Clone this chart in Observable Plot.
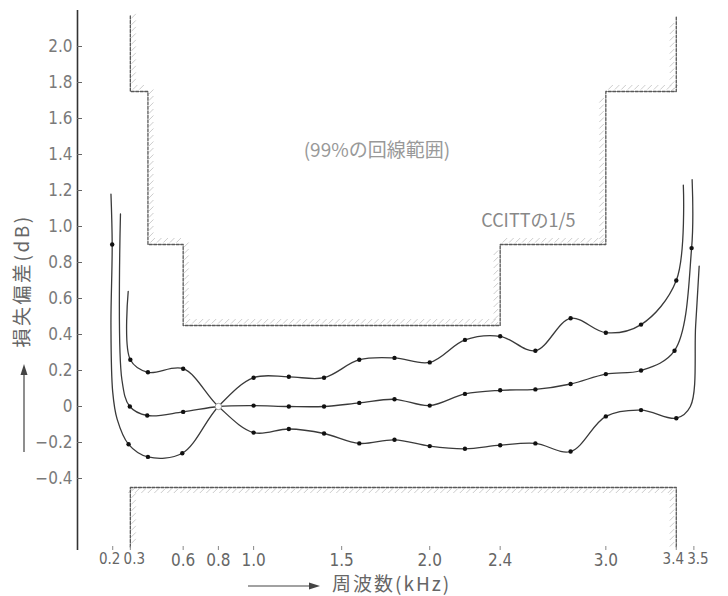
<!DOCTYPE html>
<html><head><meta charset="utf-8">
<script src="https://cdn.jsdelivr.net/npm/d3@7"></script>
<script src="https://cdn.jsdelivr.net/npm/@observablehq/plot@0.6"></script>
<style>
html,body{margin:0;padding:0;background:#fff;}
#chart{width:728px;height:596px;overflow:hidden;}
</style></head><body><div id="chart"></div>
<script>
// ---- tick values / labels ----
const xTicks = [0.2, 0.3, 0.6, 0.8, 1.0, 1.5, 2.0, 2.4, 3.0, 3.4, 3.5];
const xTickLabels = ["0.2", "0.3", "0.6", "0.8", "1.0", "1.5", "2.0", "2.4", "3.0", "3.4", "3.5"];
const yTicks = [2.0, 1.8, 1.6, 1.4, 1.2, 1.0, 0.8, 0.6, 0.4, 0.2, 0, -0.2, -0.4];
const yTickLabels = ["2.0", "1.8", "1.6", "1.4", "1.2", "1.0", "0.8", "0.6", "0.4", "0.2", "0", "−0.2", "−0.4"];

// ---- CCITT 1/5 template (upper / lower limits) ----
const upperF = [0.3, 0.3, 0.4, 0.4, 0.6, 0.6, 2.4, 2.4, 3.0, 3.0, 3.4, 3.4];
const upperV = [2.17, 1.75, 1.75, 0.9, 0.9, 0.45, 0.45, 0.9, 0.9, 1.75, 1.75, 2.17];
const lowerF = [0.3, 0.3, 3.4, 3.4];
const lowerV = [-0.78, -0.45, -0.45, -0.78];

// ---- measured curves (frequency kHz, deviation dB, marker: 1 dot, 2 node, 0 none) ----
const curveA_f = [0.288, 0.30, 0.40, 0.60, 0.80, 1.0, 1.2, 1.4, 1.6, 1.8, 2.0, 2.2, 2.4, 2.6, 2.8, 3.0, 3.2, 3.4, 3.48, 3.51, 3.53];
const curveA_v = [0.64, 0.26, 0.19, 0.21, 0.0, -0.145, -0.125, -0.15, -0.205, -0.185, -0.22, -0.235, -0.215, -0.205, -0.25, -0.055, -0.02, -0.065, 0.0, 0.45, 0.78];
const curveA_m = [0, 1, 1, 1, 2, 1, 1, 1, 1, 1, 1, 1, 1, 1, 1, 1, 1, 1, 0, 0, 0];

const curveB_f = [0.244, 0.252, 0.297, 0.396, 0.60, 0.80, 1.0, 1.2, 1.4, 1.6, 1.8, 2.0, 2.2, 2.4, 2.6, 2.8, 3.0, 3.2, 3.39, 3.487, 3.49];
const curveB_v = [1.07, 0.15, 0.0, -0.05, -0.03, 0.0, 0.005, 0.0, 0.0, 0.02, 0.04, 0.005, 0.07, 0.09, 0.095, 0.125, 0.18, 0.20, 0.31, 0.88, 1.26];
const curveB_m = [0, 0, 1, 1, 1, 2, 1, 1, 1, 1, 1, 1, 1, 1, 1, 1, 1, 1, 1, 1, 0];

const curveC_f = [0.19, 0.197, 0.19, 0.20, 0.225, 0.29, 0.40, 0.595, 0.80, 1.0, 1.2, 1.4, 1.6, 1.8, 2.0, 2.2, 2.4, 2.6, 2.8, 3.0, 3.2, 3.4, 3.44];
const curveC_v = [1.18, 0.90, 0.45, 0.08, -0.07, -0.21, -0.28, -0.26, 0.0, 0.16, 0.165, 0.16, 0.26, 0.27, 0.245, 0.37, 0.39, 0.31, 0.49, 0.41, 0.455, 0.70, 1.23];
const curveC_m = [0, 1, 0, 0, 0, 1, 1, 1, 2, 1, 1, 1, 1, 1, 1, 1, 1, 1, 1, 1, 1, 1, 0];

// ---- annotations ----
const noteText = ["(99%の回線範囲)", "CCITTの1/5"];
const noteF = [1.70, 2.56];
const noteV = [1.42, 1.03];

// ---- build tables ----
const upper = upperF.map((f, i) => ({f, v: upperV[i]}));
const lower = lowerF.map((f, i) => ({f, v: lowerV[i]}));
const mk = (id, F, V, M) => F.map((f, i) => ({id, f, v: V[i], m: M[i]}));
const curves = [
  ...mk("A", curveA_f, curveA_v, curveA_m),
  ...mk("B", curveB_f, curveB_v, curveB_m),
  ...mk("C", curveC_f, curveC_v, curveC_m)
];
const notes = noteText.map((t, i) => ({t, f: noteF[i], v: noteV[i]}));

const FONT = "'Liberation Sans Narrow', 'DejaVu Sans Condensed', 'Liberation Sans', sans-serif";
const lab = d => xTickLabels[xTicks.indexOf(d)];
const pairLeft = [0.2, 3.4];
const pairRight = [0.3, 3.5];
const single = xTicks.filter(d => !pairLeft.includes(d) && !pairRight.includes(d));

const chart = Plot.plot({
  width: 728, height: 596,
  marginLeft: 77, marginRight: 17, marginTop: 10, marginBottom: 46,
  x: {domain: [0, 3.6], label: null},
  y: {domain: [-0.8, 2.2], label: null},
  style: {background: "#fff", fontFamily: FONT, fontSize: "17px", color: "#555"},
  marks: [
    Plot.line(upper, {x: "f", y: "v", stroke: "#585858", strokeWidth: 1.3, strokeDasharray: "3,1.5"}),
    Plot.line(lower, {x: "f", y: "v", stroke: "#585858", strokeWidth: 1.3, strokeDasharray: "3,1.5"}),
    Plot.ruleX([0], {stroke: "#333", strokeWidth: 1.6}),
    Plot.line(curves, {x: "f", y: "v", z: "id", curve: "catmull-rom", stroke: "#3a3a3a", strokeWidth: 1.3}),
    Plot.dot(curves.filter(d => d.m === 1), {x: "f", y: "v", r: 2.2, fill: "#111"}),
    Plot.dot(curves.filter(d => d.m === 2).slice(0, 1), {x: "f", y: "v", r: 3.2, fill: "#fff", stroke: "#888", strokeWidth: 0.8}),
    Plot.text(notes.slice(0, 1), {x: "f", y: "v", text: "t", fill: "#999", fontSize: 19, fontFamily: "'Noto Sans CJK JP',sans-serif"}),
    Plot.text(notes.slice(1), {x: "f", y: "v", text: "t", fill: "#888", fontSize: 18, fontFamily: "'Noto Sans CJK JP',sans-serif"}),
    Plot.axisY({ticks: yTicks, tickSize: 5, dx: 5, tickFormat: () => "", label: null, color: "#666"}),
    Plot.axisY({ticks: yTicks, tickSize: 0, tickPadding: 5, label: null, color: "#7a7a7a",
      tickFormat: d => yTickLabels[yTicks.indexOf(d)]}),
    Plot.axisX({ticks: xTicks, tickSize: 4, dy: -4, tickFormat: () => "", label: null, color: "#888"}),
    Plot.axisX({ticks: single, tickSize: 0, tickPadding: 3, label: null, color: "#666", tickFormat: lab}),
    Plot.axisX({ticks: pairLeft, tickSize: 0, tickPadding: 3, dx: -3, fontSize: 15, label: null, color: "#666", tickFormat: lab}),
    Plot.axisX({ticks: pairRight, tickSize: 0, tickPadding: 3, dx: 4, fontSize: 15, label: null, color: "#666", tickFormat: lab})
  ]
});

document.getElementById("chart").appendChild(chart);

// ---- hatching on the forbidden side of each template segment ----
const svg = d3.select(chart);
const sx = chart.scale("x"), sy = chart.scale("y");
const hatchG = svg.insert("g", ":nth-child(2)").attr("stroke", "#c6c6c6").attr("stroke-width", 0.9);
for (const bound of [upper, lower]) {
  const px = bound.map(d => [sx.apply(d.f), sy.apply(d.v)]);
  for (let i = 0; i < px.length - 1; i++) {
    const [p, q] = [px[i], px[i + 1]];
    const len = Math.hypot(q[0] - p[0], q[1] - p[1]);
    const d = [(q[0] - p[0]) / len, (q[1] - p[1]) / len];
    let n = [-d[1], d[0]];
    const mid = [(p[0] + q[0]) / 2 + n[0] * 3, (p[1] + q[1]) / 2 + n[1] * 3];
    if (!d3.polygonContains(px, mid)) n = [-n[0], -n[1]];
    const m = [-n[1], -n[0]];
    const w = 4.5;
    for (let t = 3; t < len - 2; t += 6.5) {
      const a = [p[0] + d[0] * t + n[0] * 1.5, p[1] + d[1] * t + n[1] * 1.5];
      hatchG.append("line").attr("x1", a[0]).attr("y1", a[1])
        .attr("x2", a[0] + w * (n[0] + m[0])).attr("y2", a[1] + w * (n[1] + m[1]));
    }
  }
}

// ---- axis titles with arrows ----
const ink = "#444";
svg.append("text").attr("transform", "translate(24,281) rotate(-90)")
  .attr("text-anchor", "middle").attr("dominant-baseline", "middle")
  .attr("font-family", "'Noto Sans CJK JP', sans-serif").attr("font-size", 19)
  .attr("letter-spacing", 2.5).attr("fill", "#666").text("損失偏差(dB)");
svg.append("line").attr("x1", 24).attr("x2", 24).attr("y1", 452).attr("y2", 372)
  .attr("stroke", ink).attr("stroke-width", 1.2);
svg.append("path").attr("d", "M24,364L20.5,375L27.5,375Z").attr("fill", ink);
svg.append("line").attr("x1", 248).attr("x2", 312).attr("y1", 586).attr("y2", 586)
  .attr("stroke", ink).attr("stroke-width", 1.2);
svg.append("path").attr("d", "M320,586L309,582.5L309,589.5Z").attr("fill", ink);
svg.append("text").attr("x", 332).attr("y", 586)
  .attr("text-anchor", "start").attr("dominant-baseline", "middle")
  .attr("font-family", "'Noto Sans CJK JP', sans-serif").attr("font-size", 19)
  .attr("letter-spacing", 2).attr("fill", "#666").text("周波数(kHz)");
</script>
</body></html>
